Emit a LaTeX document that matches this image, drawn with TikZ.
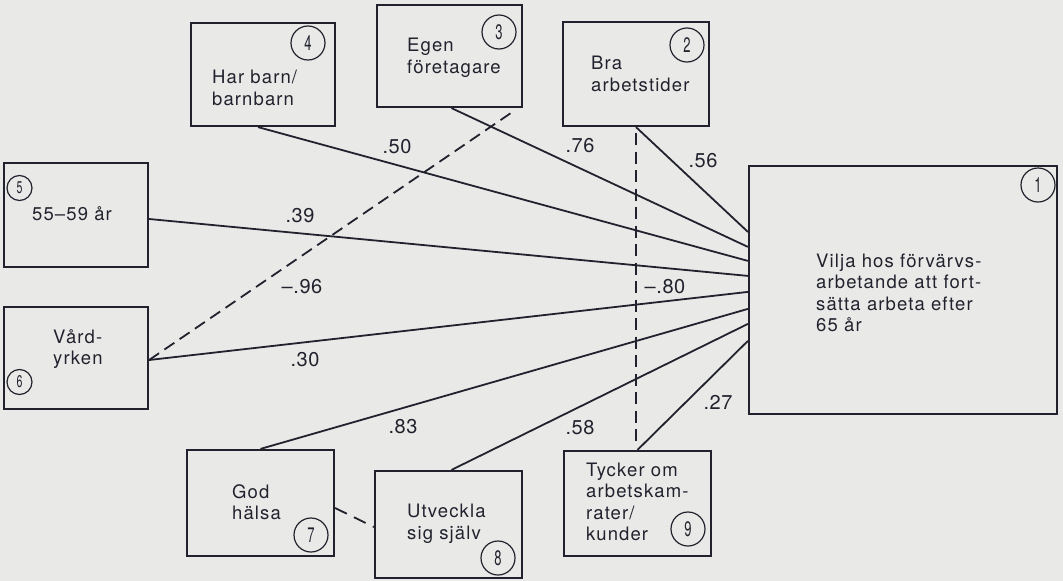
\documentclass[tikz,border=0pt]{standalone}
\usepackage{fontspec}
\setmainfont{TeX Gyre Heros}
\newfontfamily\boxfont[LetterSpace=6]{TeX Gyre Heros}
\newfontfamily\lblfont[LetterSpace=3]{TeX Gyre Heros}
\usetikzlibrary{calc}
\definecolor{paper}{RGB}{233,234,231}
\definecolor{ink}{RGB}{34,34,46}
\newcommand\cnum[1]{\scalebox{0.62}[1]{#1}}
\begin{document}
\begin{tikzpicture}[x=1pt,y=-1pt,
  bx/.style={draw=ink,line width=2.2pt,inner sep=0pt},
  txt/.style={align=left,inner sep=0pt,text=ink,font=\boxfont\fontsize{18.5}{21.5}\selectfont,anchor=west},
  num/.style={circle,draw=ink,line width=1.2pt,minimum size=34pt,inner sep=0pt,text=ink,font=\fontsize{21}{21}\selectfont},
  smallnum/.style={num,minimum size=25pt,font=\fontsize{17}{17}\selectfont},
  lb/.style={inner sep=0pt,text=ink,font=\lblfont\fontsize{20}{20}\selectfont},
  ln/.style={draw=ink,line width=1.8pt},
  dl/.style={ln,dash pattern=on 12pt off 6.5pt}]
\fill[paper] (0,0) rectangle (1063,581);
\useasboundingbox (0,0) rectangle (1063,581);

% boxes
\node[bx,minimum width=308pt,minimum height=248pt] (b1) at (903,290) {};
\node[bx,minimum width=146pt,minimum height=104pt] (b2) at (636,74) {};
\node[bx,minimum width=145pt,minimum height=102pt] (b3) at (449.5,56) {};
\node[bx,minimum width=144pt,minimum height=103pt] (b4) at (263,74.5) {};
\node[bx,minimum width=144pt,minimum height=104pt] (b5) at (76,215) {};
\node[bx,minimum width=144pt,minimum height=102pt] (b6) at (76,358) {};
\node[bx,minimum width=147pt,minimum height=106pt] (b7) at (260.5,503) {};
\node[bx,minimum width=147pt,minimum height=107pt] (b8) at (448.5,524.5) {};
\node[bx,minimum width=147pt,minimum height=105pt] (b9) at (637.5,503.5) {};

% box texts
\node[txt] (t1) at (816,293) {Vilja hos förvärvs-\\arbetande att fort-\\sätta arbeta efter\\65 år};
\node[txt] (t2) at (591,74) {Bra\\arbetstider};
\node[txt] (t3) at (407,58) {Egen\\företagare};
\node[txt] (t4) at (212,88) {Har barn/\\barnbarn};
\node[txt] (t5) at (32,214) {55–59 år};
\node[txt] (t6) at (53,349) {Vård-\\yrken};
\node[txt] (t7) at (232,502) {God\\hälsa};
\node[txt] (t8) at (407,524) {Utveckla\\sig själv};
\node[txt] (t9) at (586,502) {Tycker om\\arbetskam-\\rater/\\kunder};

% number circles
\node[num] (n1) at (1038,185) {\cnum{1}};
\node[num] (n2) at (687,45) {\cnum{2}};
\node[num] (n3) at (499,32) {\cnum{3}};
\node[num] (n4) at (308,43) {\cnum{4}};
\node[smallnum] (n5) at (19.5,188) {\cnum{5}};
\node[smallnum] (n6) at (19.5,382) {\cnum{6}};
\node[num] (n7) at (311,535) {\cnum{7}};
\node[num] (n8) at (498,558) {\cnum{8}};
\node[num] (n9) at (688,529) {\cnum{9}};

% solid connectors to box 1
\draw[ln] (b2.south) -- ([yshift=-67pt]b1.north west);
\draw[ln] ([xshift=2pt]b3.south) -- ([yshift=-82pt]b1.north west);
\draw[ln] ([xshift=-5pt]b4.south) -- ([yshift=-96pt]b1.north west);
\draw[ln] ([yshift=-4pt]b5.east) -- ([yshift=-111pt]b1.north west);
\draw[ln] ([yshift=-2pt]b6.east) -- ([yshift=-127pt]b1.north west);
\draw[ln] (b7.north) -- ([yshift=-144pt]b1.north west);
\draw[ln] ([xshift=3pt]b8.north) -- ([yshift=-159pt]b1.north west);
\draw[ln] (b9.north) -- ([yshift=-176pt]b1.north west);

% dashed connectors
\draw[dl,shorten >=4pt] ([yshift=-2pt]b6.east) -- ([xshift=-5pt]b3.south east);
\draw[dl,shorten <=6pt,shorten >=4pt] (b2.south) -- (b2.south |- b9.north);
\draw[dl,dash pattern=on 13pt off 8pt] ([yshift=-5pt]b7.east) -- ([yshift=-2.5pt]b8.west);

% coefficient labels
\node[lb] (l50) at (397,147) {.50};
\node[lb] (l76) at (580,146) {.76};
\node[lb] (l56) at (703,161) {.56};
\node[lb] (l39) at (300,216) {.39};
\node[lb] (l96) at (302,287) {–.96};
\node[lb] (l30) at (305,360) {.30};
\node[lb] (l80) at (665,287) {–.80};
\node[lb] (l83) at (403,427) {.83};
\node[lb] (l58) at (580,428) {.58};
\node[lb] (l27) at (718,402) {.27};
\end{tikzpicture}
\end{document}
